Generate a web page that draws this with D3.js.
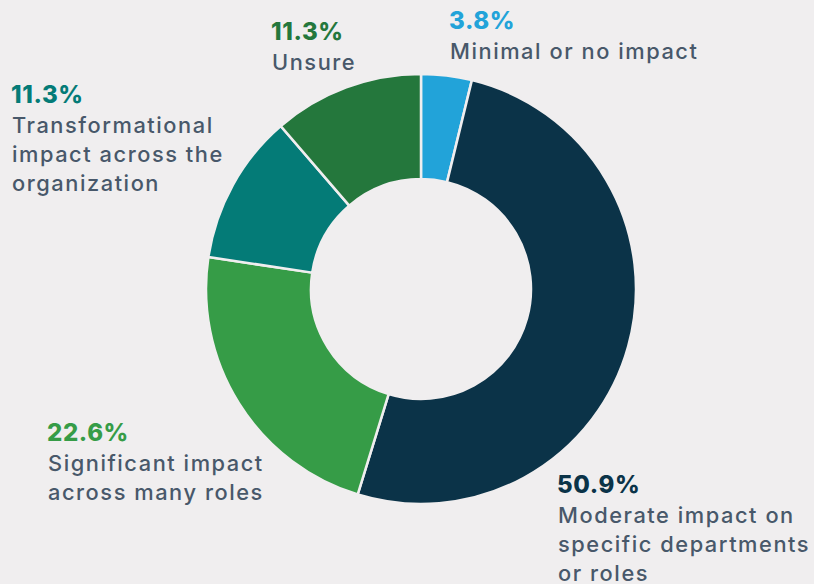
<!DOCTYPE html>
<html>
<head>
<meta charset="utf-8">
<script src="https://cdn.jsdelivr.net/npm/d3@7"></script>
<style>
	html, body { margin: 0; padding: 0; background: #f0eeef; }
	svg { display: block; }
	text { font-family: Inter, "Open Sans", sans-serif; }
</style>
</head>
<body>
<svg id="chart" width="814" height="584"></svg>
<script>
const categories = [
	"Minimal or no impact",
	"Moderate impact on specific departments or roles",
	"Significant impact across many roles",
	"Transformational impact across the organization",
	"Unsure"
];
const values = [3.8, 50.9, 22.6, 11.3, 11.3];
const colors = ["#22a3d9", "#0b3348", "#369c47", "#047b77", "#24773c"];
// label lines as they wrap in the picture
const labelLines = [
	["Minimal or no impact"],
	["Moderate impact on", "specific departments", "or roles"],
	["Significant impact", "across many roles"],
	["Transformational", "impact across the", "organization"],
	["Unsure"]
];
const labelAnchors = [[449, 29], [557, 493], [47, 441], [11, 103], [271, 40]];

const svg = d3.select("#chart");
const width = +svg.attr("width"),
	height = +svg.attr("height");

const cx = 421, cy = 289;
const outerR = 215, innerR = 110;

const pie = d3.pie().sort(null).value(d => d);
const arc = d3.arc().innerRadius(innerR).outerRadius(outerR);

const g = svg.append("g").attr("transform", `translate(${cx},${cy})`);

g.selectAll("path")
	.data(pie(values))
	.enter().append("path")
		.attr("d", arc)
		.attr("fill", (d, i) => colors[i])
		.attr("stroke", "#f0eeef")
		.attr("stroke-width", 2.5);

const labels = svg.append("g").attr("class", "labels");

categories.forEach((c, i) => {
	const [x, y] = labelAnchors[i];
	const lbl = labels.append("g");
	lbl.append("text")
		.attr("x", x)
		.attr("y", y)
		.attr("fill", colors[i])
		.attr("font-size", "24px")
		.attr("font-weight", 800)
		.attr("letter-spacing", "0.6px")
		.text(values[i].toFixed(1) + "%");
	lbl.selectAll("text.line")
		.data(labelLines[i])
		.enter().append("text")
			.attr("class", "line")
			.attr("x", x + 1)
			.attr("y", (d, j) => y + 30 + j * 29)
			.attr("fill", "#48586a")
			.attr("font-size", "21.8px")
			.attr("font-weight", 500)
			.attr("letter-spacing", "1.55px")
			.text(d => d);
});
</script>
</body>
</html>
